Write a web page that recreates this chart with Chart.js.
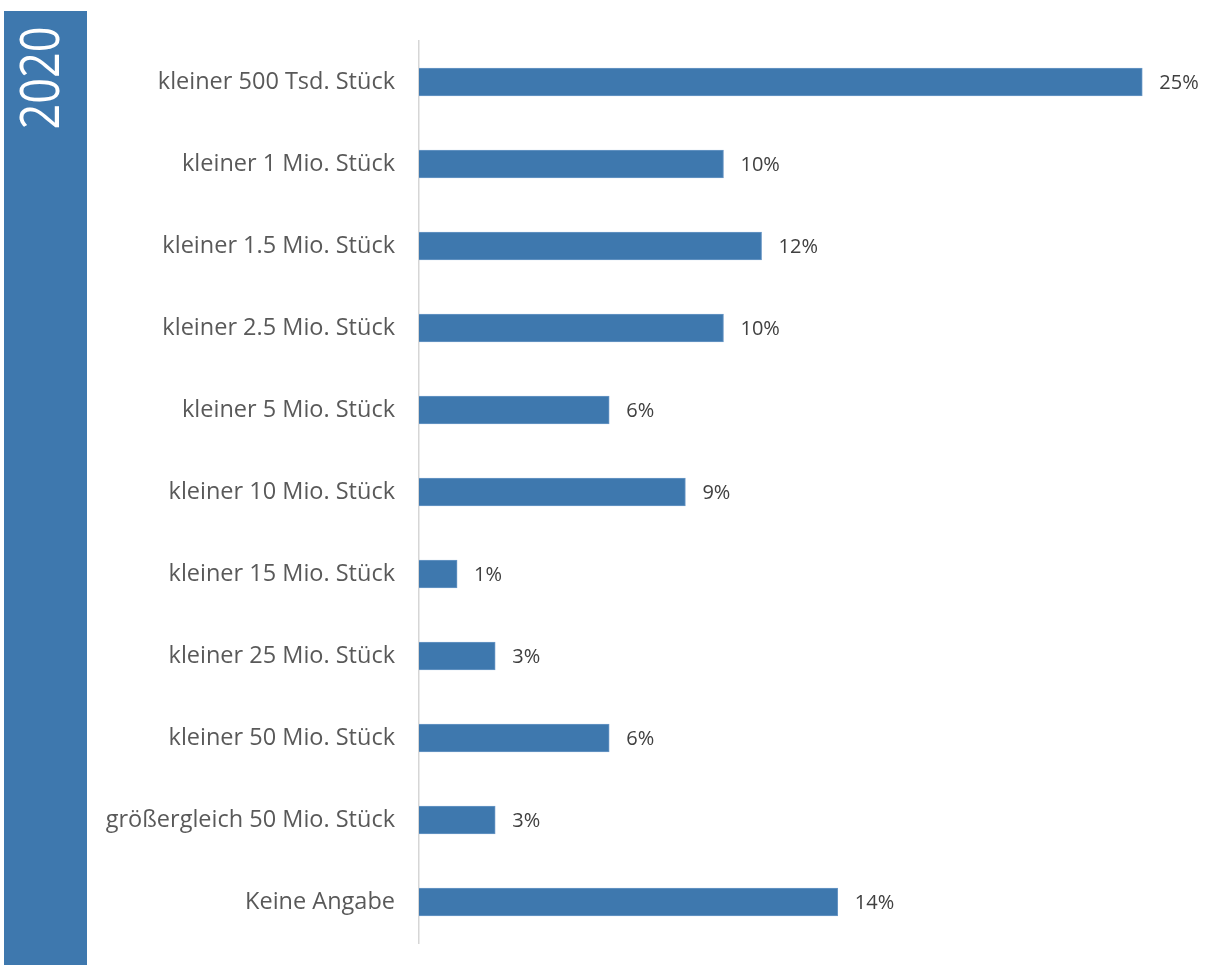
<!DOCTYPE html>
<html lang="de">
<head>
<meta charset="utf-8">
<title>Stückzahlen 2020</title>
<script src="https://cdn.jsdelivr.net/npm/chart.js@4/dist/chart.umd.min.js"></script>
<style>
  html, body { margin: 0; padding: 0; background: #ffffff; }
  canvas { display: block; }
</style>
</head>
<body>
<canvas id="chart" width="1208" height="965"></canvas>
<script>
// Anteil der Antworten je Größenklasse (in Prozent)
const yearLabel = "2020";
const categories = [
  "kleiner 500 Tsd. Stück",
  "kleiner 1 Mio. Stück",
  "kleiner 1.5 Mio. Stück",
  "kleiner 2.5 Mio. Stück",
  "kleiner 5 Mio. Stück",
  "kleiner 10 Mio. Stück",
  "kleiner 15 Mio. Stück",
  "kleiner 25 Mio. Stück",
  "kleiner 50 Mio. Stück",
  "größergleich 50 Mio. Stück",
  "Keine Angabe"
];
const shares = [24.68, 10.39, 11.69, 10.39, 6.49, 9.09, 1.30, 2.60, 6.49, 2.60, 14.29];

const barBlue = "#3e78ae";

// blue side band with the year written upwards
const yearBand = {
  id: "yearBand",
  beforeDraw(chart) {
    const ctx = chart.ctx;
    ctx.save();
    ctx.fillStyle = barBlue;
    ctx.fillRect(4, 11, 83, chart.height - 11);
    ctx.translate(41, 78);
    ctx.rotate(-Math.PI / 2);
    ctx.scale(0.82, 1);
    ctx.fillStyle = "#ffffff";
    ctx.font = "500 55px 'Open Sans'";
    ctx.textAlign = "center";
    ctx.textBaseline = "middle";
    ctx.fillText(yearLabel, 0, 2);
    ctx.restore();
  }
};

// percentage next to every bar
const valueLabels = {
  id: "valueLabels",
  afterDatasetsDraw(chart) {
    const ctx = chart.ctx;
    const meta = chart.getDatasetMeta(0);
    ctx.save();
    ctx.fillStyle = "#404040";
    ctx.font = "20px 'Open Sans'";
    ctx.textAlign = "left";
    ctx.textBaseline = "middle";
    meta.data.forEach((bar, i) => {
      ctx.fillText(Math.round(shares[i]) + "%", bar.x + 17, bar.y + 1);
    });
    ctx.restore();
  }
};

new Chart(document.getElementById("chart"), {
  type: "bar",
  data: {
    labels: categories,
    datasets: [{
      data: shares,
      backgroundColor: barBlue,
      borderColor: "#6b98c6",
      borderWidth: 1,
      borderSkipped: "left",
      barThickness: 28
    }]
  },
  options: {
    indexAxis: "y",
    responsive: false,
    animation: false,
    layout: { padding: { top: 41, bottom: 22, left: 0, right: 8 } },
    plugins: {
      legend: { display: false },
      tooltip: { enabled: false }
    },
    scales: {
      x: {
        display: false,
        min: 0,
        max: 26.65
      },
      y: {
        afterFit(scale) { scale.width = 419; },
        // invisible tick marks keep the labels clear of the axis line
        grid: { display: false, drawTicks: true, tickLength: 21 },
        border: { display: true, color: "#d6d6d6", width: 1.5 },
        ticks: {
          color: "#595959",
          padding: 3,
          font: { family: "'Open Sans'", size: 23.5 }
        }
      }
    }
  },
  plugins: [yearBand, valueLabels]
});
</script>
</body>
</html>
